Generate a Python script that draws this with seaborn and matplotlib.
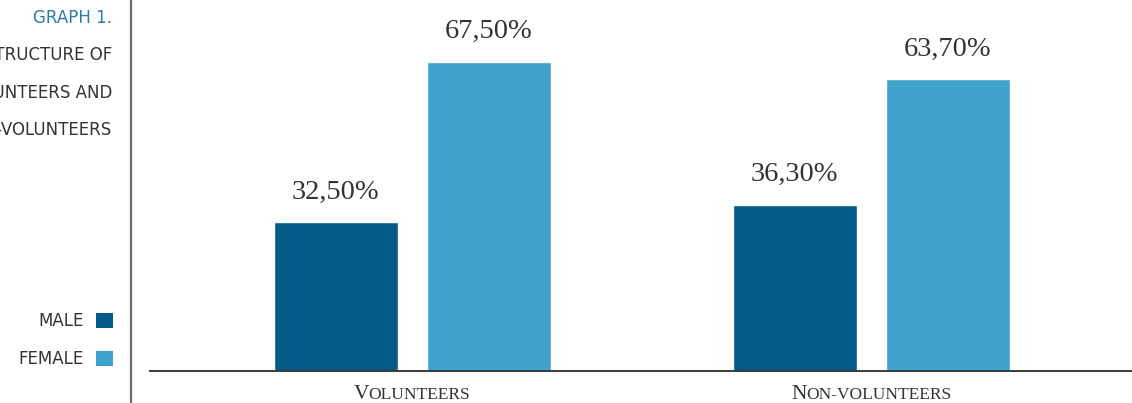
import matplotlib
matplotlib.use("Agg")
import matplotlib.pyplot as plt
from matplotlib.lines import Line2D
from matplotlib.patches import Patch
import seaborn as sns
import pandas as pd

# Share of men and women among volunteers and non-volunteers (%)
groups = ["Volunteers", "Non-volunteers"]
genders = ["Male", "Female"]
male_share = [32.5, 36.3]
female_share = [67.5, 63.7]

title_lines = ["GENDER STRUCTURE OF", "VOLUNTEERS AND", "NON-VOLUNTEERS"]
graph_tag = "GRAPH 1."

MALE_COLOR = "#035b88"
FEMALE_COLOR = "#3fa3cb"
TEXT_COLOR = "#333333"

df = pd.DataFrame({
    "group": groups * 2,
    "gender": [genders[0]] * len(groups) + [genders[1]] * len(groups),
    "share": male_share + female_share,
})

sns.set_theme(style="white")
plt.rcParams["font.family"] = ["DejaVu Sans"]

W, H = 1132, 403
fig = plt.figure(figsize=(W / 100, H / 100), dpi=100)
ax = fig.add_axes([150 / W, 32 / H, (W - 150) / W, (H - 32) / H])

sns.barplot(
    data=df, x="group", y="share", hue="gender", order=groups,
    hue_order=genders, palette=[MALE_COLOR, FEMALE_COLOR],
    width=0.667, gap=0.19, saturation=1, ax=ax, legend=False,
)

ax.set_xlim(-0.571, 1.568)
ax.set_ylim(0, 81)
ax.set_xlabel("")
ax.set_ylabel("")
ax.set_yticks([])
ax.tick_params(axis="x", length=0, labelbottom=False)
for side in ("top", "right", "left"):
    ax.spines[side].set_visible(False)
ax.spines["bottom"].set_color("#3a3a3a")
ax.spines["bottom"].set_linewidth(1.4)

# value labels above the bars
for container in ax.containers:
    for bar in container:
        val = bar.get_height()
        ax.annotate(
            f"{val:.2f}%".replace(".", ","),
            xy=(bar.get_x() + bar.get_width() / 2, val),
            xytext=(0, 17), textcoords="offset points",
            ha="center", va="baseline", fontsize=20.5,
            family="Liberation Serif", color=TEXT_COLOR,
        )

# small-caps category labels below the baseline
fig.canvas.draw()
renderer = fig.canvas.get_renderer()


def small_caps(x_data, y_px, word, big=15.5, small=12.5):
    parts = [(word[0].upper(), big), (word[1:].upper(), small)]
    pieces = []
    for txt, size in parts:
        t = fig.text(0, 0, txt, fontsize=size, family="Liberation Serif",
                     color=TEXT_COLOR, va="baseline", ha="left")
        pieces.append(t)
    widths = [p.get_window_extent(renderer).width for p in pieces]
    spacing = -1.0
    total = sum(widths) + spacing
    cx = ax.transData.transform((x_data, 0))[0]
    x0 = cx - total / 2
    for p, w in zip(pieces, widths):
        p.set_position((x0 / W, 1 - y_px / H))
        x0 += w + spacing


for i, g in enumerate(groups):
    small_caps(i, 399, g)

# left panel: caption
fig.text(112 / W, 1 - 23 / H, graph_tag, ha="right", va="baseline",
         fontsize=12, color="#2b7ca5")
for k, line in enumerate(title_lines):
    fig.text(112 / W, 1 - (60 + 37.5 * k) / H, line, ha="right", va="baseline",
             fontsize=12, color=TEXT_COLOR)

# divider
fig.add_artist(Line2D([131 / W, 131 / W], [0, 1], color="#6b6b6b", linewidth=1.6))

# legend with markers on the right of the labels
handles = [Patch(facecolor=MALE_COLOR, edgecolor="none"),
           Patch(facecolor=FEMALE_COLOR, edgecolor="none")]
fig.legend(handles, [g.upper() for g in genders], loc="upper right",
           bbox_to_anchor=(113 / W, 1 - 312 / H), markerfirst=False,
           frameon=False, handlelength=1.02, handleheight=1.02,
           handletextpad=0.75, labelspacing=1.2, fontsize=12,
           labelcolor=TEXT_COLOR, borderaxespad=0, borderpad=0)

fig.savefig("out.png", dpi=100)
